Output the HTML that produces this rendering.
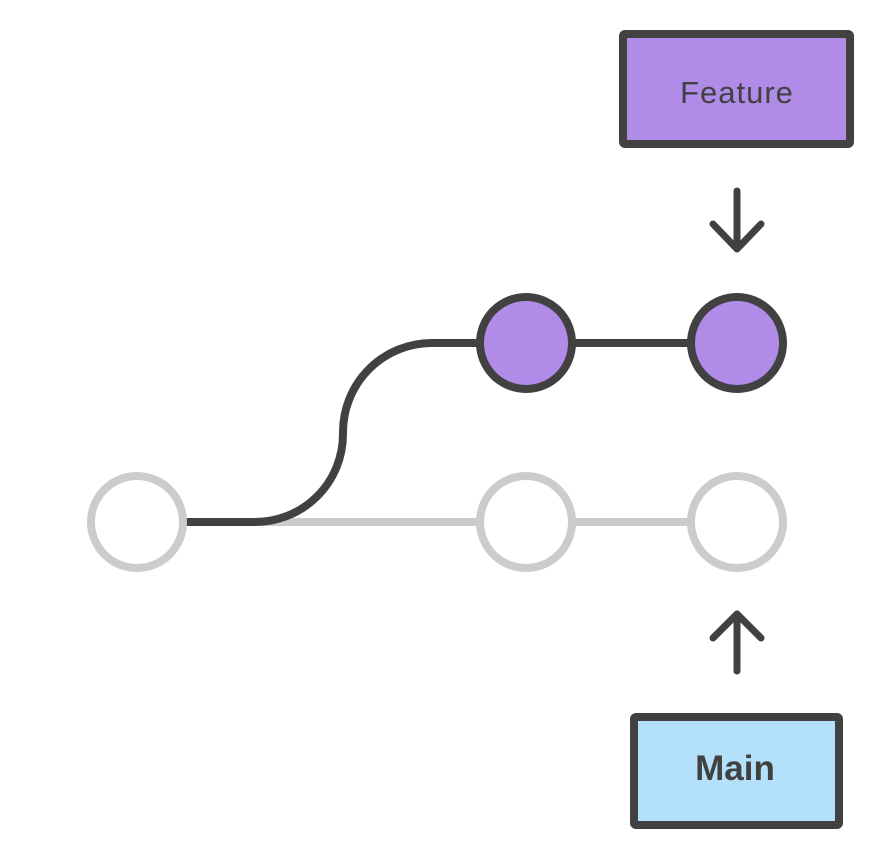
<!DOCTYPE html>
<html><head><meta charset="utf-8"><style>html,body{margin:0;padding:0;background:#fff}svg{display:block}</style></head>
<body>
<svg width="886" height="843" viewBox="0 0 886 843" xmlns="http://www.w3.org/2000/svg">
<line x1="186" y1="522" x2="690" y2="522" stroke="#cccccc" stroke-width="8"/>
<path d="M180 522 H253 A88 88 0 0 0 343 434 V432 A89 89 0 0 1 432 343 H485" fill="none" stroke="#414141" stroke-width="8"/>
<line x1="570" y1="343" x2="690" y2="343" stroke="#414141" stroke-width="8"/>
<circle cx="137" cy="522" r="46" fill="#fff" stroke="#cccccc" stroke-width="8"/>
<circle cx="526" cy="522" r="46" fill="#fff" stroke="#cccccc" stroke-width="8"/>
<circle cx="737" cy="522" r="46" fill="#fff" stroke="#cccccc" stroke-width="8"/>
<circle cx="526" cy="343" r="46" fill="#b08be8" stroke="#414141" stroke-width="8"/>
<circle cx="737" cy="343" r="46" fill="#b08be8" stroke="#414141" stroke-width="8"/>
<rect x="623" y="34" width="227" height="110" rx="2" fill="#b08be8" stroke="#414141" stroke-width="8"/>
<text x="737" y="103" text-anchor="middle" font-family="Liberation Sans, sans-serif" font-size="31" fill="#414141" letter-spacing="1">Feature</text>
<g fill="none" stroke="#414141" stroke-width="7" stroke-linecap="round" stroke-linejoin="round">
<path d="M737 191 V249 M713 224 L737 249 L761 224"/>
<path d="M737 671 V614 M713 638 L737 614 L761 638"/>
</g>
<rect x="634" y="717" width="205" height="108" rx="2" fill="#b3e1fb" stroke="#414141" stroke-width="8"/>
<text x="735" y="780" text-anchor="middle" font-family="Liberation Sans, sans-serif" font-size="35" font-weight="bold" fill="#414141">Main</text>
</svg>
</body></html>
